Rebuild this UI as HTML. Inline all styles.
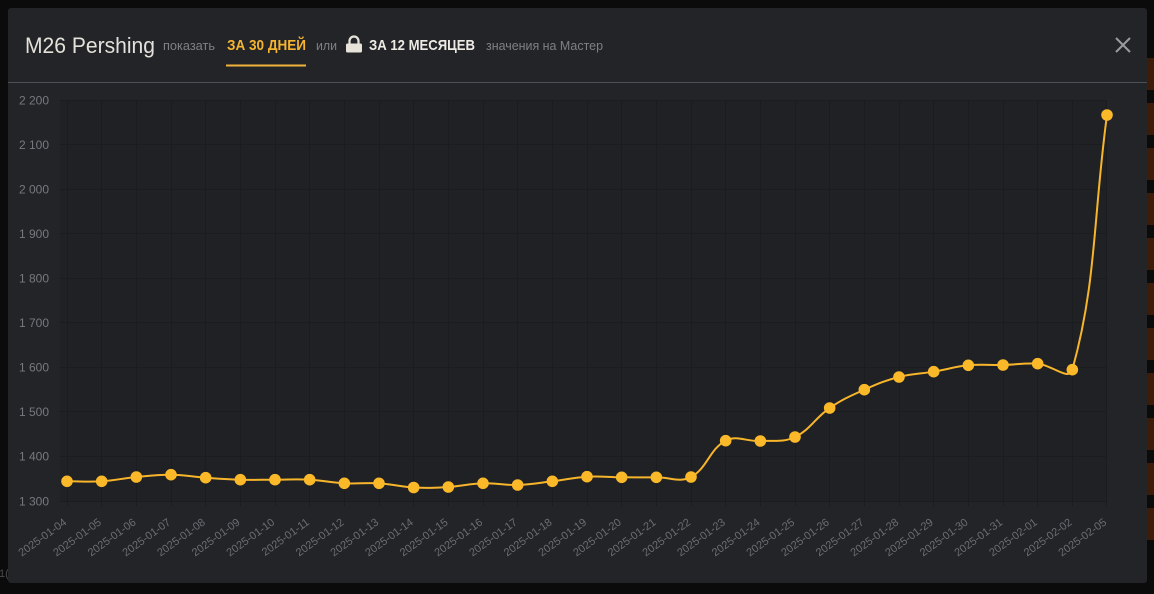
<!DOCTYPE html>
<html><head><meta charset="utf-8"><style>
html,body{margin:0;padding:0;background:#0b0b0c;width:1154px;height:594px;overflow:hidden}
svg{display:block}
</style></head><body>
<svg width="1154" height="594" viewBox="0 0 1154 594" xmlns="http://www.w3.org/2000/svg" font-family="'Liberation Sans', Arial, sans-serif">
<rect x="0" y="0" width="1154" height="594" fill="#0b0b0c"/>
<g fill="#3d1c0a">
<rect x="1147" y="58" width="7" height="32"/><rect x="1147" y="103" width="7" height="32"/><rect x="1147" y="148" width="7" height="32"/><rect x="1147" y="193" width="7" height="32"/><rect x="1147" y="238" width="7" height="32"/><rect x="1147" y="283" width="7" height="32"/><rect x="1147" y="328" width="7" height="32"/><rect x="1147" y="373" width="7" height="32"/><rect x="1147" y="418" width="7" height="32"/><rect x="1147" y="463" width="7" height="32"/><rect x="1147" y="508" width="7" height="32"/>
</g>
<text x="-1" y="577" font-size="11" fill="#4a4a4a">1(</text>
<rect x="8" y="8" width="1139" height="575" rx="3" fill="#222428"/>
<line x1="8" y1="82.5" x2="1147" y2="82.5" stroke="#4d5056" stroke-width="1"/>
<text x="25" y="53" font-size="22" fill="#e4e1da" textLength="130" lengthAdjust="spacingAndGlyphs">M26 Pershing</text>
<text x="163" y="50" font-size="13" fill="#7f8083" textLength="52" lengthAdjust="spacingAndGlyphs">показать</text>
<text x="227" y="50" font-size="15" font-weight="bold" fill="#f5b430" textLength="79" lengthAdjust="spacingAndGlyphs">ЗА 30 ДНЕЙ</text>
<rect x="226" y="64.5" width="80" height="2" fill="#f2b23a"/>
<text x="316" y="50" font-size="13" fill="#7f8083" textLength="21" lengthAdjust="spacingAndGlyphs">или</text>
<path d="M349.5 44.5 V41 a4.5 4.5 0 0 1 9 0 V44.5" stroke="#e7e3d9" stroke-width="2.2" fill="none"/>
<rect x="346" y="43.5" width="16" height="9" rx="1.5" fill="#e7e3d9"/>
<text x="369" y="50" font-size="15" font-weight="bold" fill="#eeebe4" textLength="106" lengthAdjust="spacingAndGlyphs">ЗА 12 МЕСЯЦЕВ</text>
<text x="486" y="50" font-size="13" fill="#7f8083" textLength="117" lengthAdjust="spacingAndGlyphs">значения на Мастер</text>
<path d="M1116 38 L1130 52 M1130 38 L1116 52" stroke="#9a9b9e" stroke-width="2"/>
<rect x="60" y="100" width="1047" height="401" rx="3" fill="#1f2125"/>
<g stroke="#1a1c1f" stroke-width="1">
<line x1="60" y1="100.5" x2="1107" y2="100.5"/><line x1="60" y1="144.5" x2="1107" y2="144.5"/><line x1="60" y1="189.5" x2="1107" y2="189.5"/><line x1="60" y1="233.5" x2="1107" y2="233.5"/><line x1="60" y1="278.5" x2="1107" y2="278.5"/><line x1="60" y1="322.5" x2="1107" y2="322.5"/><line x1="60" y1="367.5" x2="1107" y2="367.5"/><line x1="60" y1="411.5" x2="1107" y2="411.5"/><line x1="60" y1="456.5" x2="1107" y2="456.5"/><line x1="60" y1="501.5" x2="1107" y2="501.5"/>
<line x1="67.5" y1="100" x2="67.5" y2="506"/><line x1="101.5" y1="100" x2="101.5" y2="506"/><line x1="136.5" y1="100" x2="136.5" y2="506"/><line x1="171.5" y1="100" x2="171.5" y2="506"/><line x1="205.5" y1="100" x2="205.5" y2="506"/><line x1="240.5" y1="100" x2="240.5" y2="506"/><line x1="275.5" y1="100" x2="275.5" y2="506"/><line x1="309.5" y1="100" x2="309.5" y2="506"/><line x1="344.5" y1="100" x2="344.5" y2="506"/><line x1="379.5" y1="100" x2="379.5" y2="506"/><line x1="413.5" y1="100" x2="413.5" y2="506"/><line x1="448.5" y1="100" x2="448.5" y2="506"/><line x1="483.5" y1="100" x2="483.5" y2="506"/><line x1="517.5" y1="100" x2="517.5" y2="506"/><line x1="552.5" y1="100" x2="552.5" y2="506"/><line x1="587.5" y1="100" x2="587.5" y2="506"/><line x1="621.5" y1="100" x2="621.5" y2="506"/><line x1="656.5" y1="100" x2="656.5" y2="506"/><line x1="691.5" y1="100" x2="691.5" y2="506"/><line x1="725.5" y1="100" x2="725.5" y2="506"/><line x1="760.5" y1="100" x2="760.5" y2="506"/><line x1="795.5" y1="100" x2="795.5" y2="506"/><line x1="829.5" y1="100" x2="829.5" y2="506"/><line x1="864.5" y1="100" x2="864.5" y2="506"/><line x1="899.5" y1="100" x2="899.5" y2="506"/><line x1="933.5" y1="100" x2="933.5" y2="506"/><line x1="968.5" y1="100" x2="968.5" y2="506"/><line x1="1003.5" y1="100" x2="1003.5" y2="506"/><line x1="1037.5" y1="100" x2="1037.5" y2="506"/><line x1="1072.5" y1="100" x2="1072.5" y2="506"/><line x1="1106.5" y1="100" x2="1106.5" y2="506"/>
</g>
<g font-size="12" fill="#76797d" text-anchor="end">
<text x="49" y="104.3">2 200</text><text x="49" y="148.8">2 100</text><text x="49" y="193.4">2 000</text><text x="49" y="238">1 900</text><text x="49" y="282.5">1 800</text><text x="49" y="327.1">1 700</text><text x="49" y="371.6">1 600</text><text x="49" y="416.2">1 500</text><text x="49" y="460.7">1 400</text><text x="49" y="505.3">1 300</text>
</g>
<g font-size="11" fill="#6b6e72" text-anchor="end">
<text transform="translate(65,520.5) rotate(-36)" dy="0.36em">2025-01-04</text>
<text transform="translate(99.67,520.5) rotate(-36)" dy="0.36em">2025-01-05</text>
<text transform="translate(134.33,520.5) rotate(-36)" dy="0.36em">2025-01-06</text>
<text transform="translate(169,520.5) rotate(-36)" dy="0.36em">2025-01-07</text>
<text transform="translate(203.67,520.5) rotate(-36)" dy="0.36em">2025-01-08</text>
<text transform="translate(238.33,520.5) rotate(-36)" dy="0.36em">2025-01-09</text>
<text transform="translate(273,520.5) rotate(-36)" dy="0.36em">2025-01-10</text>
<text transform="translate(307.67,520.5) rotate(-36)" dy="0.36em">2025-01-11</text>
<text transform="translate(342.33,520.5) rotate(-36)" dy="0.36em">2025-01-12</text>
<text transform="translate(377,520.5) rotate(-36)" dy="0.36em">2025-01-13</text>
<text transform="translate(411.67,520.5) rotate(-36)" dy="0.36em">2025-01-14</text>
<text transform="translate(446.33,520.5) rotate(-36)" dy="0.36em">2025-01-15</text>
<text transform="translate(481,520.5) rotate(-36)" dy="0.36em">2025-01-16</text>
<text transform="translate(515.67,520.5) rotate(-36)" dy="0.36em">2025-01-17</text>
<text transform="translate(550.33,520.5) rotate(-36)" dy="0.36em">2025-01-18</text>
<text transform="translate(585,520.5) rotate(-36)" dy="0.36em">2025-01-19</text>
<text transform="translate(619.67,520.5) rotate(-36)" dy="0.36em">2025-01-20</text>
<text transform="translate(654.33,520.5) rotate(-36)" dy="0.36em">2025-01-21</text>
<text transform="translate(689,520.5) rotate(-36)" dy="0.36em">2025-01-22</text>
<text transform="translate(723.67,520.5) rotate(-36)" dy="0.36em">2025-01-23</text>
<text transform="translate(758.33,520.5) rotate(-36)" dy="0.36em">2025-01-24</text>
<text transform="translate(793,520.5) rotate(-36)" dy="0.36em">2025-01-25</text>
<text transform="translate(827.67,520.5) rotate(-36)" dy="0.36em">2025-01-26</text>
<text transform="translate(862.33,520.5) rotate(-36)" dy="0.36em">2025-01-27</text>
<text transform="translate(897,520.5) rotate(-36)" dy="0.36em">2025-01-28</text>
<text transform="translate(931.67,520.5) rotate(-36)" dy="0.36em">2025-01-29</text>
<text transform="translate(966.33,520.5) rotate(-36)" dy="0.36em">2025-01-30</text>
<text transform="translate(1001,520.5) rotate(-36)" dy="0.36em">2025-01-31</text>
<text transform="translate(1035.67,520.5) rotate(-36)" dy="0.36em">2025-02-01</text>
<text transform="translate(1070.33,520.5) rotate(-36)" dy="0.36em">2025-02-02</text>
<text transform="translate(1105,520.5) rotate(-36)" dy="0.36em">2025-02-05</text>
</g>
<path fill="none" stroke="#f7b52b" stroke-width="2" stroke-linejoin="round" d="M67 481.3 C80.87 481.3 87.8 482.16 101.67 481.3 C115.54 480.44 122.46 478.32 136.33 477 C150.2 475.68 157.13 474.56 171 474.7 C184.87 474.84 191.8 476.7 205.67 477.7 C219.54 478.7 226.46 479.3 240.33 479.7 C254.2 480.1 261.13 479.7 275 479.7 C288.87 479.7 295.8 478.98 309.67 479.7 C323.54 480.42 330.46 482.58 344.33 483.3 C358.2 484.02 365.13 482.46 379 483.3 C392.87 484.14 399.8 486.76 413.67 487.5 C427.54 488.24 434.46 487.84 448.33 487 C462.2 486.16 469.13 483.7 483 483.3 C496.87 482.9 503.8 485.4 517.67 485 C531.54 484.6 538.46 482.96 552.33 481.3 C566.2 479.64 573.13 477.5 587 476.7 C600.87 475.9 607.8 477.18 621.67 477.3 C635.54 477.42 642.46 477.36 656.33 477.3 C670.2 477.24 679.67 482.98 691 477 C707.4 468.34 709.27 449.22 725.67 440.7 C737 434.82 746.46 441.74 760.33 441 C774.2 440.26 782.92 442.75 795 437 C810.65 429.55 814.82 418.13 829.67 408 C842.55 399.21 850.05 396.09 864.33 389.7 C877.78 383.69 884.78 380.69 899 377 C912.51 373.49 919.8 374.04 933.67 371.7 C947.54 369.36 954.46 366.64 968.33 365.3 C982.2 363.96 989.13 365.32 1003 365 C1016.87 364.68 1023.9 362.77 1037.67 363.7 C1051.63 364.65 1068.99 381.68 1072.33 369.7 C1096.72 282.19 1093.13 216.88 1107 115"/>
<g fill="#fbb92a">
<circle cx="67" cy="481.3" r="5.8"/><circle cx="101.67" cy="481.3" r="5.8"/><circle cx="136.33" cy="477" r="5.8"/><circle cx="171" cy="474.7" r="5.8"/><circle cx="205.67" cy="477.7" r="5.8"/><circle cx="240.33" cy="479.7" r="5.8"/><circle cx="275" cy="479.7" r="5.8"/><circle cx="309.67" cy="479.7" r="5.8"/><circle cx="344.33" cy="483.3" r="5.8"/><circle cx="379" cy="483.3" r="5.8"/><circle cx="413.67" cy="487.5" r="5.8"/><circle cx="448.33" cy="487" r="5.8"/><circle cx="483" cy="483.3" r="5.8"/><circle cx="517.67" cy="485" r="5.8"/><circle cx="552.33" cy="481.3" r="5.8"/><circle cx="587" cy="476.7" r="5.8"/><circle cx="621.67" cy="477.3" r="5.8"/><circle cx="656.33" cy="477.3" r="5.8"/><circle cx="691" cy="477" r="5.8"/><circle cx="725.67" cy="440.7" r="5.8"/><circle cx="760.33" cy="441" r="5.8"/><circle cx="795" cy="437" r="5.8"/><circle cx="829.67" cy="408" r="5.8"/><circle cx="864.33" cy="389.7" r="5.8"/><circle cx="899" cy="377" r="5.8"/><circle cx="933.67" cy="371.7" r="5.8"/><circle cx="968.33" cy="365.3" r="5.8"/><circle cx="1003" cy="365" r="5.8"/><circle cx="1037.67" cy="363.7" r="5.8"/><circle cx="1072.33" cy="369.7" r="5.8"/><circle cx="1107" cy="115" r="5.8"/>
</g>
</svg>
</body></html>
